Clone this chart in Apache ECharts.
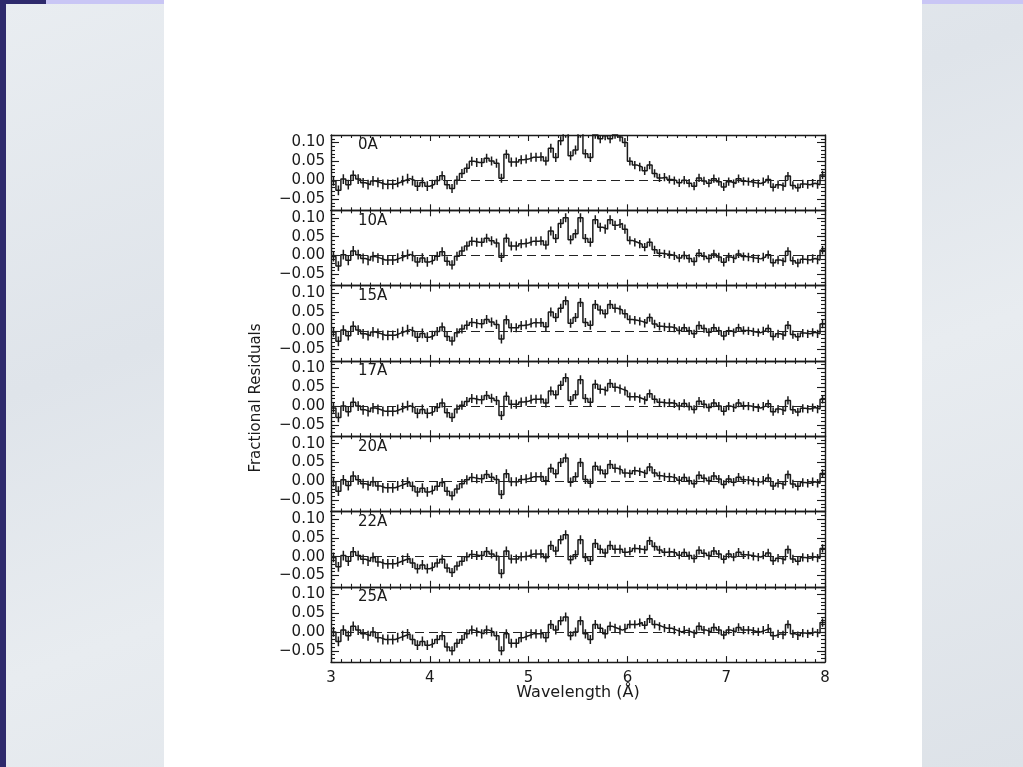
<!DOCTYPE html>
<html>
<head>
<meta charset="utf-8">
<script src="https://cdn.jsdelivr.net/npm/echarts@6/dist/echarts.min.js"></script>
<style>
html,body{margin:0;padding:0;width:1023px;height:767px;overflow:hidden;}
body{background:linear-gradient(160deg,#e9edf1 0%,#dfe4ea 35%,#e8ecf0 60%,#dde2e8 100%);position:relative;}
#navyL{position:absolute;left:0;top:0;width:6px;height:767px;background:#2e2a6c;}
#navyT{position:absolute;left:0;top:0;width:46px;height:4px;background:#2e2a6c;}
#lavL{position:absolute;left:46px;top:0;width:118px;height:4px;background:#c9c6f5;}
#lavR{position:absolute;left:922px;top:0;width:101px;height:4px;background:#c9c6f5;}
#page{position:absolute;left:164px;top:0;width:758px;height:767px;background:#ffffff;}
#chart{position:absolute;left:0;top:0;width:1023px;height:767px;}
</style>
</head>
<body>
<div id="navyL"></div><div id="navyT"></div><div id="lavL"></div><div id="lavR"></div>
<div id="page"></div>
<div id="chart"></div>
<script>
// ---- data ----
const binEdges = [3.00,3.05,3.10,3.15,3.20,3.25,3.30,3.35,3.40,3.45,3.50,3.55,3.60,3.65,3.70,3.75,3.80,3.85,3.90,3.95,
4.00,4.05,4.10,4.15,4.20,4.25,4.30,4.35,4.40,4.45,4.50,4.55,4.60,4.65,4.70,4.75,4.80,4.85,4.90,4.95,
5.00,5.05,5.10,5.15,5.20,5.25,5.30,5.35,5.40,5.45,5.50,5.55,5.60,5.65,5.70,5.75,5.80,5.85,5.90,5.95,
6.00,6.05,6.10,6.15,6.20,6.25,6.30,6.35,6.40,6.45,6.50,6.55,6.60,6.65,6.70,6.75,6.80,6.85,6.90,6.95,
7.00,7.05,7.10,7.15,7.20,7.25,7.30,7.35,7.40,7.45,7.50,7.55,7.60,7.65,7.70,7.75,7.80,7.85,7.90,7.95,8.00];

const errors = [0.013,0.013,0.013,0.013,0.013,0.013,0.013,0.013,0.013,0.013,
0.013,0.013,0.013,0.013,0.013,0.013,0.013,0.013,0.013,0.013,
0.012,0.012,0.012,0.012,0.012,0.012,0.012,0.012,0.012,0.012,
0.012,0.012,0.012,0.012,0.012,0.012,0.012,0.012,0.012,0.012,
0.012,0.012,0.012,0.012,0.012,0.012,0.012,0.012,0.012,0.012,
0.012,0.012,0.012,0.012,0.012,0.012,0.012,0.012,0.012,0.012,
0.011,0.011,0.011,0.011,0.011,0.011,0.011,0.011,0.011,0.011,
0.011,0.011,0.011,0.011,0.011,0.011,0.011,0.011,0.011,0.011,
0.011,0.011,0.011,0.011,0.011,0.011,0.011,0.011,0.011,0.011,
0.011,0.011,0.011,0.011,0.011,0.011,0.011,0.011,0.011,0.011];

const res0A = [-0.002,-0.027,0.003,-0.012,0.013,0.003,-0.007,-0.012,-0.002,-0.006,
-0.011,-0.011,-0.011,-0.006,-0.001,0.004,-0.001,-0.016,-0.006,-0.016,
-0.011,-0.001,0.012,-0.012,-0.022,0.000,0.018,0.032,0.050,0.047,
0.047,0.058,0.051,0.045,0.005,0.069,0.048,0.048,0.054,0.056,
0.061,0.061,0.062,0.051,0.085,0.060,0.105,0.125,0.065,0.080,
0.125,0.070,0.060,0.122,0.110,0.118,0.110,0.122,0.115,0.100,
0.050,0.040,0.035,0.025,0.040,0.018,0.006,0.008,0.002,-0.001,
-0.007,0.000,-0.008,-0.016,0.006,-0.002,-0.008,0.004,-0.004,-0.018,
-0.004,-0.009,0.004,-0.003,-0.004,-0.007,-0.009,-0.004,0.002,-0.019,
-0.012,-0.017,0.011,-0.014,-0.020,-0.010,-0.012,-0.008,-0.012,0.014];

const res10A = [-0.003,-0.028,0.002,-0.013,0.012,0.002,-0.008,-0.013,-0.003,-0.007,
-0.012,-0.012,-0.012,-0.007,-0.002,0.003,-0.002,-0.017,-0.007,-0.017,
-0.012,-0.002,0.010,-0.015,-0.025,-0.002,0.012,0.025,0.038,0.035,
0.035,0.046,0.039,0.033,-0.005,0.046,0.025,0.025,0.031,0.033,
0.038,0.038,0.039,0.028,0.065,0.045,0.085,0.100,0.042,0.058,
0.100,0.045,0.035,0.095,0.075,0.070,0.095,0.080,0.085,0.070,
0.040,0.035,0.030,0.022,0.035,0.015,0.006,0.004,0.002,-0.001,
-0.007,0.000,-0.008,-0.016,0.006,-0.002,-0.008,0.004,-0.004,-0.018,
-0.004,-0.009,0.004,-0.003,-0.004,-0.007,-0.009,-0.004,0.002,-0.019,
-0.012,-0.017,0.011,-0.014,-0.020,-0.010,-0.012,-0.008,-0.012,0.014];

const res15A = [-0.003,-0.028,0.002,-0.013,0.012,0.002,-0.008,-0.013,-0.003,-0.007,
-0.012,-0.012,-0.012,-0.007,-0.002,0.003,-0.002,-0.017,-0.007,-0.017,
-0.012,-0.002,0.010,-0.015,-0.027,-0.005,0.005,0.015,0.022,0.019,
0.019,0.030,0.023,0.017,-0.022,0.029,0.008,0.008,0.014,0.016,
0.021,0.021,0.022,0.011,0.050,0.035,0.060,0.080,0.020,0.035,
0.075,0.022,0.015,0.070,0.055,0.045,0.070,0.060,0.055,0.045,
0.030,0.028,0.025,0.020,0.035,0.018,0.012,0.010,0.010,0.007,
0.001,0.008,0.000,-0.008,0.014,0.006,-0.004,0.008,0.000,-0.014,
0.000,-0.005,0.008,0.001,0.000,-0.003,-0.005,0.000,0.006,-0.015,
-0.008,-0.013,0.015,-0.010,-0.016,-0.006,-0.008,-0.004,-0.008,0.018];

const res17A = [-0.005,-0.030,0.000,-0.015,0.010,0.000,-0.010,-0.015,-0.005,-0.009,
-0.014,-0.014,-0.014,-0.009,-0.004,0.001,-0.004,-0.019,-0.009,-0.019,
-0.014,-0.004,0.008,-0.018,-0.030,-0.008,0.002,0.012,0.020,0.017,
0.017,0.028,0.021,0.015,-0.025,0.026,0.005,0.005,0.011,0.013,
0.018,0.018,0.019,0.008,0.040,0.030,0.055,0.075,0.015,0.030,
0.070,0.020,0.010,0.058,0.045,0.040,0.060,0.050,0.045,0.040,
0.025,0.025,0.020,0.015,0.033,0.018,0.010,0.008,0.009,0.006,
0.000,0.007,-0.001,-0.009,0.013,0.005,-0.004,0.008,0.000,-0.014,
0.000,-0.005,0.008,0.001,0.000,-0.003,-0.005,0.000,0.006,-0.015,
-0.008,-0.013,0.015,-0.010,-0.016,-0.006,-0.008,-0.004,-0.008,0.018];

const res20A = [-0.001,-0.026,0.004,-0.011,0.014,0.004,-0.006,-0.011,-0.001,-0.012,
-0.017,-0.017,-0.017,-0.012,-0.007,-0.002,-0.013,-0.028,-0.018,-0.028,
-0.023,-0.013,-0.003,-0.026,-0.038,-0.020,-0.006,0.004,0.010,0.007,
0.007,0.018,0.011,0.005,-0.035,0.020,-0.001,-0.001,0.005,0.007,
0.012,0.012,0.013,0.002,0.035,0.020,0.050,0.062,-0.002,0.012,
0.050,0.005,-0.005,0.040,0.030,0.020,0.045,0.035,0.030,0.022,
0.020,0.028,0.025,0.020,0.038,0.022,0.015,0.012,0.012,0.009,
0.003,0.010,0.002,-0.006,0.016,0.008,0.002,0.014,0.006,-0.008,
0.006,-0.002,0.011,0.004,0.003,0.000,-0.002,0.003,0.009,-0.012,
-0.005,-0.010,0.018,-0.007,-0.013,-0.003,-0.005,-0.001,-0.005,0.021];

const res22A = [-0.002,-0.027,0.003,-0.012,0.013,0.003,-0.007,-0.012,-0.002,-0.014,
-0.019,-0.019,-0.019,-0.014,-0.009,-0.004,-0.017,-0.032,-0.022,-0.032,
-0.027,-0.017,-0.007,-0.030,-0.042,-0.025,-0.012,0.000,0.006,0.003,
0.003,0.014,0.007,0.001,-0.045,0.015,-0.006,-0.006,0.000,0.002,
0.007,0.007,0.008,-0.003,0.030,0.015,0.045,0.058,-0.008,0.005,
0.045,-0.002,-0.010,0.035,0.020,0.010,0.030,0.020,0.020,0.012,
0.015,0.022,0.020,0.018,0.042,0.027,0.018,0.012,0.013,0.010,
0.004,0.011,0.003,-0.005,0.017,0.009,0.003,0.015,0.007,-0.007,
0.007,-0.001,0.012,0.005,0.004,0.001,-0.001,0.004,0.010,-0.011,
-0.004,-0.009,0.019,-0.006,-0.012,-0.002,-0.004,0.000,-0.004,0.022];

const res25A = [0.000,-0.025,0.005,-0.010,0.015,0.005,-0.005,-0.010,0.000,-0.015,
-0.020,-0.020,-0.020,-0.015,-0.010,-0.005,-0.020,-0.035,-0.025,-0.035,
-0.030,-0.020,-0.010,-0.040,-0.050,-0.030,-0.020,-0.005,0.005,0.000,
-0.005,0.005,0.000,-0.010,-0.050,-0.005,-0.030,-0.030,-0.015,-0.010,
-0.005,-0.005,-0.005,-0.015,0.020,0.005,0.030,0.040,-0.010,0.000,
0.030,-0.005,-0.020,0.020,0.010,-0.005,0.015,0.010,0.005,0.010,
0.020,0.020,0.025,0.018,0.035,0.020,0.015,0.010,0.010,0.005,
0.000,0.005,0.000,-0.005,0.015,0.005,0.000,0.012,0.005,-0.008,
0.005,0.000,0.012,0.005,0.005,0.002,0.000,0.005,0.010,-0.010,
-0.005,-0.008,0.020,-0.005,-0.010,-0.003,-0.005,0.000,-0.003,0.025];

const panelNames = ['0A','10A','15A','17A','20A','22A','25A'];
const panelSeries = [res0A,res10A,res15A,res17A,res20A,res22A,res25A];
const yTickValues = [-0.05, 0.00, 0.05, 0.10];
const yTickLabels = ['\u22120.05','0.00','0.05','0.10'];
const xTickLabels = ['3','4','5','6','7','8'];
const xTitle = 'Wavelength (\u00C5)';
const yTitle = 'Fractional Residuals';

// ---- layout ----
const FONT = 'DejaVu Sans';
const INK = '#1a1a1a';
const G_LEFT = 331, G_WIDTH = 494, G_TOP = 135, G_H = 75.3;
const Y_MIN = -0.08, Y_MAX = 0.12;

const grids = [], xAxes = [], yAxes = [], series = [], graphics = [];

panelSeries.forEach((vals, k) => {
  const top = G_TOP + k * G_H;
  grids.push({left: G_LEFT, top: top, width: G_WIDTH, height: G_H, containLabel: false});
  const last = (k === panelSeries.length - 1);
  const xBase = {
    type: 'value', gridIndex: k, min: 3, max: 8, interval: 1,
    axisLine: {show: true, onZero: false, lineStyle: {color: INK, width: 1.4}},
    axisTick: {show: true, inside: true, length: 6, lineStyle: {color: INK, width: 1.1}},
    minorTick: {show: true, splitNumber: 10, length: 3, lineStyle: {color: INK, width: 1.1}},
    splitLine: {show: false}, minorSplitLine: {show: false}
  };
  xAxes.push(Object.assign({}, xBase, {
    position: 'bottom',
    axisLabel: {show: last, margin: 9, color: INK, fontFamily: FONT, fontSize: 15,
      formatter: (v) => xTickLabels[Math.round(v) - 3]}
  }));
  xAxes.push(Object.assign({}, xBase, {position: 'top', axisLabel: {show: false}}));

  const yMajor = (pos) => ({
    type: 'value', gridIndex: k, min: Y_MIN, max: Y_MAX, position: pos,
    axisLine: {show: true, onZero: false, lineStyle: {color: INK, width: 1.4}},
    axisTick: {show: true, inside: true, length: 8, customValues: yTickValues, lineStyle: {color: INK, width: 1.1}},
    axisLabel: {show: pos === 'left', customValues: yTickValues, margin: 6, color: INK,
      fontFamily: FONT, fontSize: 15,
      formatter: (v) => { const i = yTickValues.findIndex(t => Math.abs(t - v) < 1e-6); return i >= 0 ? yTickLabels[i] : ''; }},
    splitLine: {show: false}
  });
  const yMinor = (pos) => ({
    type: 'value', gridIndex: k, min: Y_MIN, max: Y_MAX, interval: 0.01, position: pos,
    axisLine: {show: false},
    axisTick: {show: true, inside: true, length: 4, lineStyle: {color: INK, width: 1.1}},
    axisLabel: {show: false}, splitLine: {show: false}
  });
  yAxes.push(yMajor('left'), yMinor('left'), yMajor('right'), yMinor('right'));

  const stepData = [];
  vals.forEach((v, i) => { stepData.push([binEdges[i], v]); stepData.push([binEdges[i + 1], v]); });
  const errData = vals.map((v, i) => [(binEdges[i] + binEdges[i + 1]) / 2, v - errors[i], v + errors[i]]);

  series.push({
    type: 'line', xAxisIndex: 2 * k, yAxisIndex: 4 * k, data: stepData,
    showSymbol: false, symbol: 'none', clip: true, animation: false, silent: true,
    lineStyle: {color: INK, width: 1.5},
    markLine: {silent: true, symbol: 'none', animation: false, label: {show: false},
      lineStyle: {color: '#222', width: 1.2, type: [9, 5]}, data: [{yAxis: 0}]}
  });
  series.push({
    type: 'custom', xAxisIndex: 2 * k, yAxisIndex: 4 * k, data: errData, clip: true,
    animation: false, silent: true, encode: {x: 0, y: [1, 2]},
    renderItem: (params, api) => {
      const p1 = api.coord([api.value(0), api.value(1)]);
      const p2 = api.coord([api.value(0), api.value(2)]);
      return {type: 'line', shape: {x1: p1[0], y1: p1[1], x2: p2[0], y2: p2[1]},
        style: {stroke: INK, lineWidth: 1.5}};
    }
  });

  graphics.push({type: 'text', left: G_LEFT + 27, top: top + 3,
    style: {text: panelNames[k], font: '15px "DejaVu Sans"', fill: INK}});
});

graphics.push({type: 'text', x: G_LEFT + G_WIDTH / 2, y: 693,
  style: {text: xTitle, font: '16px "DejaVu Sans"', fill: INK, align: 'center', verticalAlign: 'middle'}});
graphics.push({type: 'text', x: 256, y: 398, rotation: Math.PI / 2,
  style: {text: yTitle, font: '15px "DejaVu Sans"', fill: INK, align: 'center', verticalAlign: 'middle'}});

const chart = echarts.init(document.getElementById('chart'), null, {renderer: 'canvas'});
chart.setOption({
  backgroundColor: 'transparent',
  animation: false,
  grid: grids, xAxis: xAxes, yAxis: yAxes, series: series,
  graphic: graphics
});
</script>
</body>
</html>
